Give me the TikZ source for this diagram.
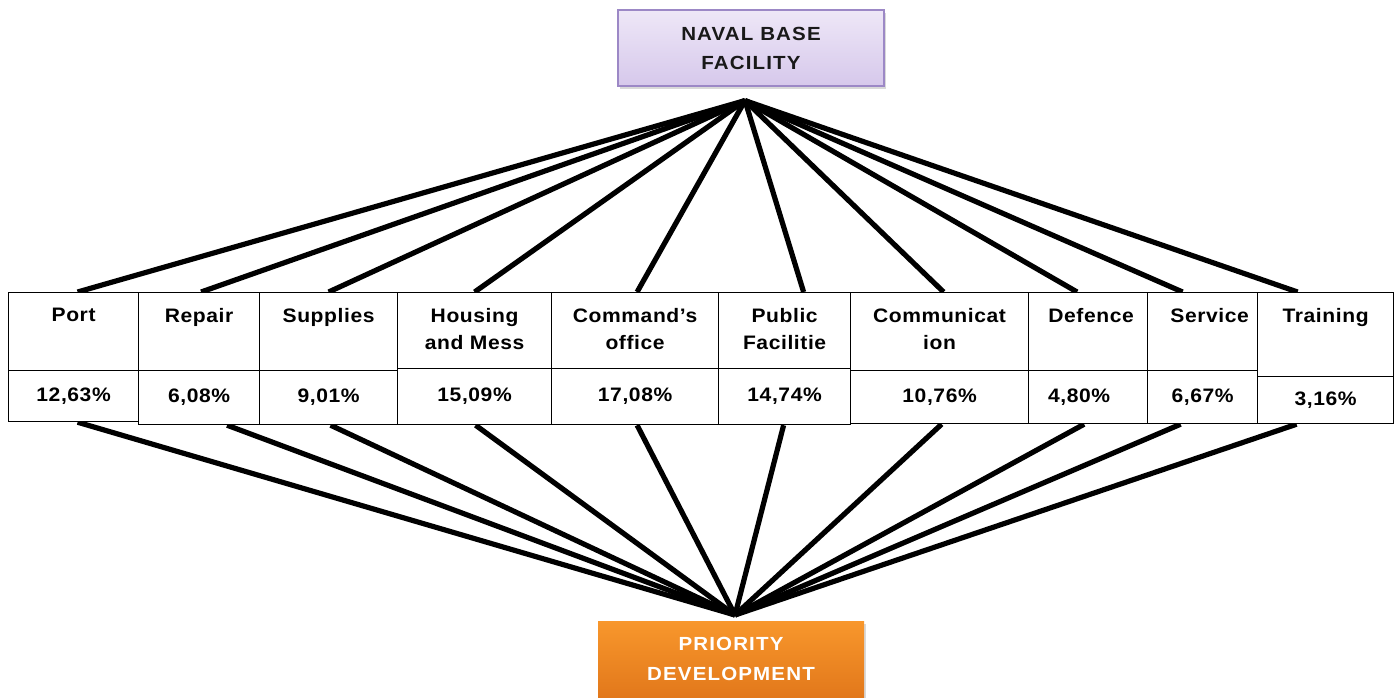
\documentclass[tikz,border=0pt]{standalone}
\usepackage{fontspec}
\setmainfont[FakeStretch=1.08,LetterSpace=3]{Liberation Sans}
\usepackage{tikz}
\usetikzlibrary{positioning,shadows,backgrounds}
\definecolor{navaltop}{HTML}{EEE7F7}
\definecolor{navalbot}{HTML}{D6C8EB}
\definecolor{navaledge}{HTML}{9C88C6}
\definecolor{priotop}{HTML}{F8972C}
\definecolor{priobot}{HTML}{E2781B}

\tikzset{
	cell/.style={draw=black,line width=1.2pt,fill=white,inner sep=0pt,anchor=north west},
	head/.style={cell,minimum height=78pt},
	val/.style={cell,minimum height=53pt,font=\fontsize{19.5}{23}\selectfont\bfseries},
	headtext/.style={anchor=north,inner sep=0pt,align=center,font=\fontsize{19.5}{27}\selectfont\bfseries},
	spoke/.style={line width=5.2pt},
}

\begin{document}
\begin{tikzpicture}[x=1pt,y=-1pt]
			\useasboundingbox (0,0) rectangle (1395,697);
			
			% top and bottom boxes
			\node[draw=navaledge,line width=1.2pt,top color=navaltop,bottom color=navalbot,
				drop shadow={opacity=0.3,shadow xshift=2pt,shadow yshift=-3pt},
				minimum width=266pt,minimum height=76pt,align=center,text=black!90,
				font=\fontsize{19}{29}\selectfont\bfseries\addfontfeature{LetterSpace=6}] (naval) at (751,48) {NAVAL BASE\\FACILITY};
			\node[top color=priotop,bottom color=priobot,
				drop shadow={opacity=0.3,shadow xshift=2pt,shadow yshift=-3pt},
				minimum width=266pt,minimum height=76pt,anchor=north,align=center,text=white,
				font=\fontsize{19}{30}\selectfont\bfseries\addfontfeature{LetterSpace=6}] (prio) at (731,621) {PRIORITY\\DEVELOPMENT};
			\coordinate (hub) at ([xshift=-6pt,yshift=-14pt]naval.south);
			\coordinate (base) at ([xshift=4pt,yshift=6pt]prio.north);
			
			% header row
			\node[head,minimum width=130pt] (port) at (8,292) {};
			\node[head,minimum width=121pt] (repair) at (138,292) {};
			\node[head,minimum width=138pt] (supplies) at (259,292) {};
			\node[head,minimum width=154pt,minimum height=76pt] (housing) at (397,292) {};
			\node[head,minimum width=167pt] (command) at (551,292) {};
			\node[head,minimum width=132pt] (public) at (718,292) {};
			\node[head,minimum width=178pt] (comm) at (850,292) {};
			\node[head,minimum width=119pt] (defence) at (1028,292) {};
			\node[head,minimum width=110pt] (service) at (1147,292) {};
			\node[head,minimum width=136pt,minimum height=84pt] (training) at (1257,292) {};
			
			\node[headtext] (port-t) at ([yshift=-16pt]port.north) {Port};
			\node[headtext] (repair-t) at ([yshift=-16pt]repair.north) {Repair};
			\node[headtext] (supplies-t) at ([yshift=-16pt]supplies.north) {Supplies};
			\node[headtext] (housing-t) at ([yshift=-16pt]housing.north) {Housing\\and Mess};
			\node[headtext] (command-t) at ([yshift=-16pt]command.north) {Command’s\\office};
			\node[headtext] (public-t) at ([yshift=-16pt]public.north) {Public\\Facilitie};
			\node[headtext] (comm-t) at ([yshift=-16pt]comm.north) {Communicat\\ion};
			\node[headtext] (defence-t) at ([xshift=3pt,yshift=-16pt]defence.north) {Defence};
			\node[headtext] (service-t) at ([xshift=7pt,yshift=-16pt]service.north) {Service};
			\node[headtext] (training-t) at ([yshift=-16pt]training.north) {Training};
			
			% value row
			\node[val,minimum width=130pt,minimum height=51pt] (portv) at (8,370) {12,63\%};
			\node[val,minimum width=121pt,minimum height=54pt] (repairv) at (138,370) {6,08\%};
			\node[val,minimum width=138pt,minimum height=54pt] (suppliesv) at (259,370) {9,01\%};
			\node[val,minimum width=154pt,minimum height=56pt] (housingv) at (397,368) {15,09\%};
			\node[val,minimum width=167pt,minimum height=56pt] (commandv) at (551,368) {17,08\%};
			\node[val,minimum width=132pt,minimum height=56pt] (publicv) at (718,368) {\raisebox{3pt}{14,74\%}};
			\node[val,minimum width=178pt] (commv) at (850,370) {\raisebox{3pt}{10,76\%}};
			\node[val,minimum width=119pt] (defencev) at (1028,370) {\hspace*{-18pt}\raisebox{3pt}{4,80\%}};
			\node[val,minimum width=110pt] (servicev) at (1147,370) {\raisebox{3pt}{6,67\%}};
			\node[val,minimum width=136pt,minimum height=47pt] (trainingv) at (1257,376) {3,16\%};
			
			% connectors
			\begin{scope}[on background layer]
			\draw[spoke] (hub) -- ([xshift=4pt]port.north);
			\draw[spoke] (hub) -- ([xshift=2pt]repair.north);
			\draw[spoke] (hub) -- (supplies.north);
			\draw[spoke] (hub) -- (housing.north);
			\draw[spoke] (hub) -- ([xshift=2pt]command.north);
			\draw[spoke] (hub) -- ([xshift=19pt]public.north);
			\draw[spoke] (hub) -- ([xshift=4pt]comm.north);
			\draw[spoke] (hub) -- ([xshift=-11pt]defence.north);
			\draw[spoke] (hub) -- ([xshift=-20pt]service.north);
			\draw[spoke] (hub) -- ([xshift=-28pt]training.north);
			
			\draw[spoke] ([xshift=4pt]portv.south) -- (base);
			\draw[spoke] ([xshift=28pt]repairv.south) -- (base);
			\draw[spoke] ([xshift=2pt]suppliesv.south) -- (base);
			\draw[spoke] ([xshift=1pt]housingv.south) -- (base);
			\draw[spoke] ([xshift=2pt]commandv.south) -- (base);
			\draw[spoke] ([xshift=-1pt]publicv.south) -- (base);
			\draw[spoke] ([xshift=2pt]commv.south) -- (base);
			\draw[spoke] ([xshift=-4pt]defencev.south) -- (base);
			\draw[spoke] ([xshift=-22pt]servicev.south) -- (base);
			\draw[spoke] ([xshift=-29pt]trainingv.south) -- (base);
			\end{scope}
		\end{tikzpicture}
\end{document}
